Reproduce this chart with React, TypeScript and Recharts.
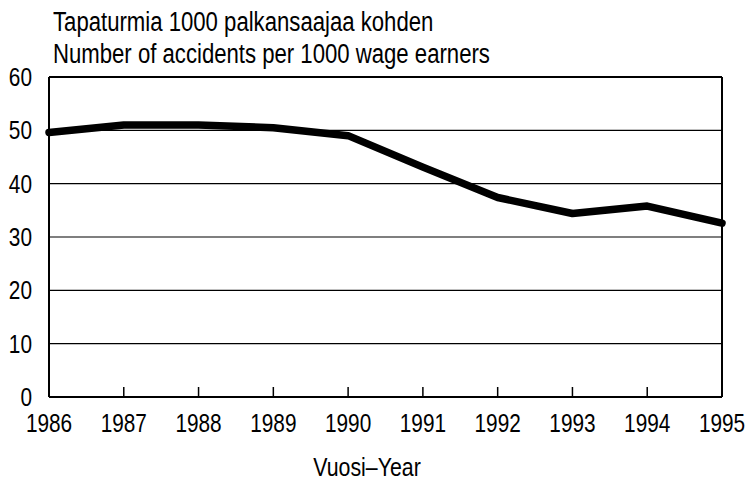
import React from "react";
import { LineChart, Line, XAxis, YAxis, CartesianGrid, ReferenceLine } from "recharts";

const years = ["1986", "1987", "1988", "1989", "1990", "1991", "1992", "1993", "1994", "1995"];
const accidents = [49.6, 51.0, 51.0, 50.5, 49.0, 43.1, 37.4, 34.4, 35.8, 32.6];
const yTicks = [0, 10, 20, 30, 40, 50, 60];
const titleFi = "Tapaturmia 1000 palkansaajaa kohden";
const titleEn = "Number of accidents per 1000 wage earners";
const xLabel = "Vuosi\u2013Year";

const data = years.map((y, i) => ({ year: y, value: accidents[i] }));

const FONT = "'Liberation Sans', Arial, sans-serif";
const SX = 0.82;

const XTick = (props: any) => {
  const { x, y, payload } = props;
  return (
    <g>
      <line x1={x} x2={x} y1={y - 10} y2={y} stroke="#000" strokeWidth={1.5} />
      <text
        transform={`translate(${x},${y + 35}) scale(0.8,1)`}
        x={0}
        y={0}
        textAnchor="middle"
        fontFamily={FONT}
        fontSize={26}
        fill="#000"
      >
        {payload.value}
      </text>
    </g>
  );
};

const YTick = (props: any) => {
  const { x, y, payload } = props;
  return (
    <text
      transform={`translate(${x},${y + 9}) scale(0.8,1)`}
      x={0}
      y={0}
      textAnchor="end"
      fontFamily={FONT}
      fontSize={26}
      fill="#000"
    >
      {payload.value}
    </text>
  );
};

export default function App() {
  return (
    <div style={{ position: "absolute", left: 0, top: 0, width: 748, height: 481, background: "#fff", fontFamily: FONT }}>
      <div
        style={{
          position: "absolute",
          left: 53,
          top: 6,
          fontSize: 27,
          lineHeight: "32px",
          color: "#000",
          whiteSpace: "nowrap",
          transform: `scaleX(${SX})`,
          transformOrigin: "0 0",
        }}
      >
        <div>{titleFi}</div>
        <div>{titleEn}</div>
      </div>
      <div
        style={{
          position: "absolute",
          left: 267,
          width: 200,
          top: 452,
          textAlign: "center",
          fontSize: 26,
          lineHeight: "30px",
          color: "#000",
          whiteSpace: "nowrap",
          transform: `scaleX(${SX})`,
          transformOrigin: "50% 0",
        }}
      >
        {xLabel}
      </div>
      <LineChart width={748} height={481} data={data} margin={{ top: 77, right: 26, bottom: 24, left: 0 }}>
        <CartesianGrid vertical={false} stroke="#000" strokeWidth={1.2} />
        <XAxis
          dataKey="year"
          interval={0}
          tickSize={0}
          tickMargin={0}
          tickLine={false}
          axisLine={{ stroke: "#000", strokeWidth: 2 }}
          tick={<XTick />}
          height={60}
        />
        <YAxis
          domain={[0, 60]}
          ticks={yTicks}
          width={49}
          tickSize={0}
          tickMargin={17}
          tickLine={false}
          axisLine={{ stroke: "#000", strokeWidth: 2 }}
          tick={<YTick />}
        />
        <ReferenceLine x="1995" stroke="#000" strokeWidth={2} />
        <ReferenceLine y={60} stroke="#000" strokeWidth={2} />
        <Line
          dataKey="value"
          type="linear"
          stroke="#000"
          strokeWidth={7.5}
          strokeLinecap="round"
          strokeLinejoin="round"
          dot={false}
          isAnimationActive={false}
        />
      </LineChart>
    </div>
  );
}
